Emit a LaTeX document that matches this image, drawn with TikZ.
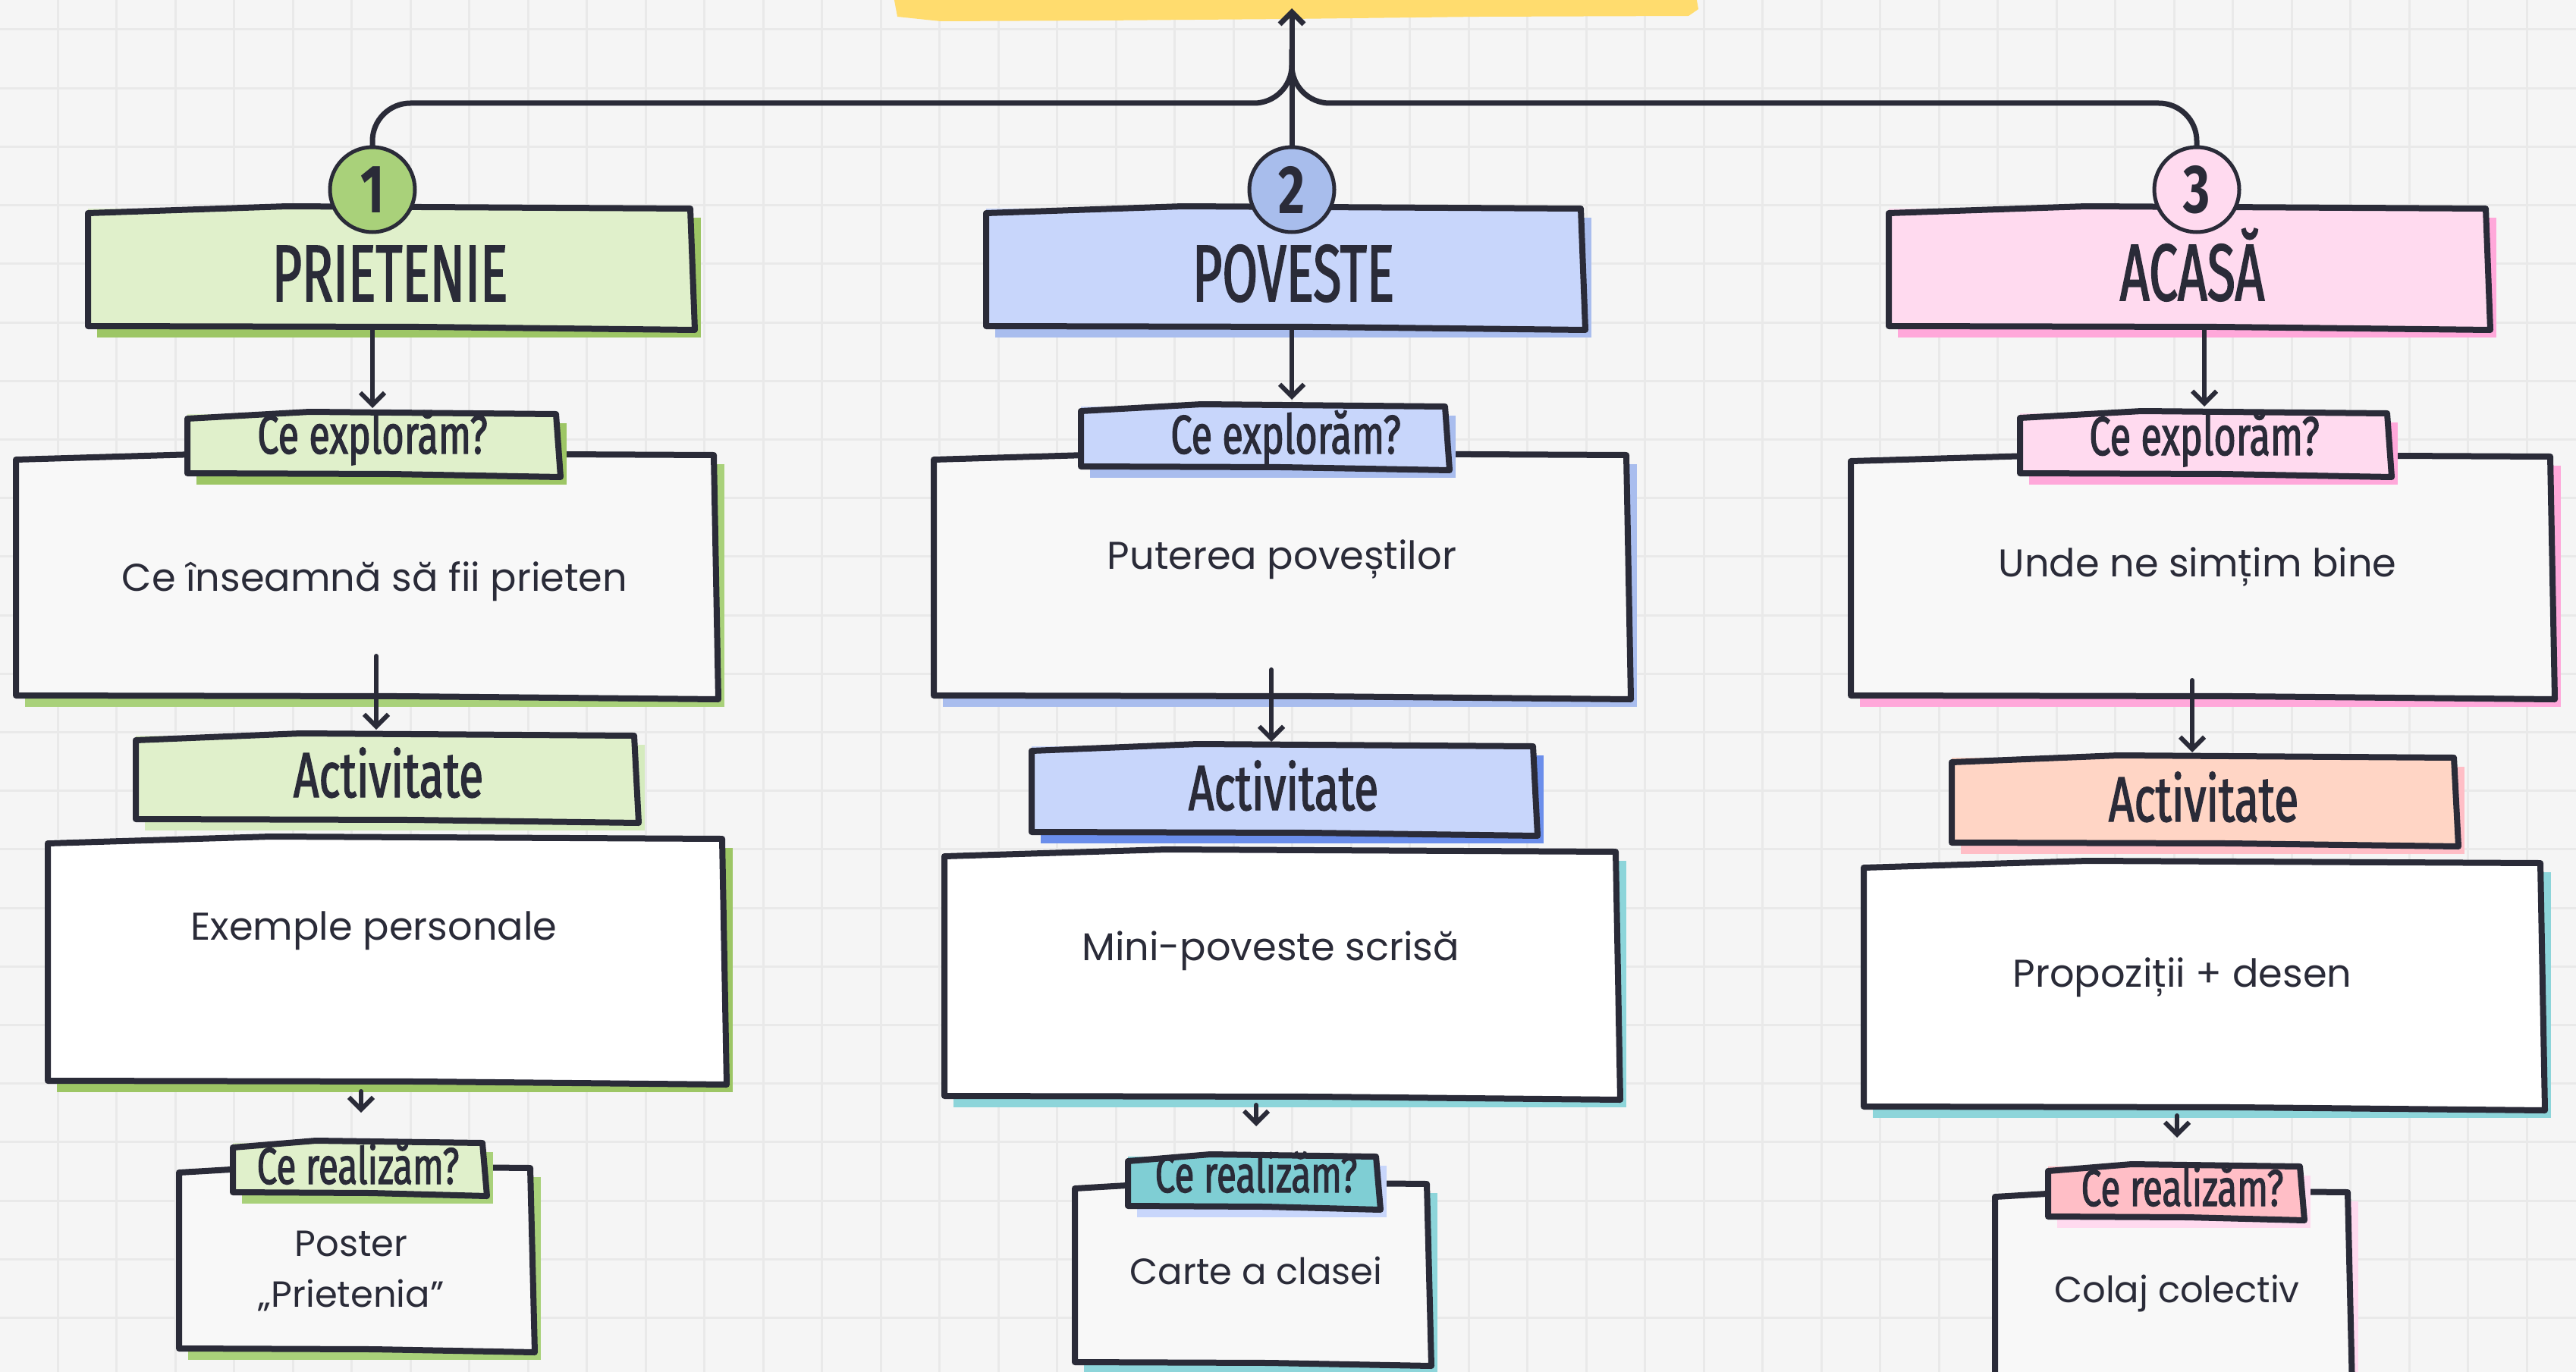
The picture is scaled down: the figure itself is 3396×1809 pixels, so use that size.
\documentclass[tikz,border=0pt]{standalone}
\usepackage{fontspec}
\setmainfont{Poppins}
\newfontfamily\handA[FakeStretch=0.64, FakeBold=1.6]{Fira Sans}
\newfontfamily\handB[FakeStretch=0.70, FakeBold=1.6]{Fira Sans}
\newfontfamily\handN[FakeStretch=0.75]{Fira Sans}
\usetikzlibrary{arrows.meta,shadows,calc}

\definecolor{ink}{HTML}{2A2B38}
\definecolor{bg}{HTML}{F5F5F5}
\definecolor{gridc}{HTML}{E9E9E9}
\definecolor{paper}{HTML}{F8F8F8}
\definecolor{gFill}{HTML}{E0F0CB}
\definecolor{gShad}{HTML}{9DC665}
\definecolor{gBadge}{HTML}{A9D17A}
\definecolor{gPale}{HTML}{D5EBBE}
\definecolor{bFill}{HTML}{C8D6FB}
\definecolor{bShad}{HTML}{A9BDEE}
\definecolor{bBadge}{HTML}{A8BDEC}
\definecolor{bDeep}{HTML}{6B8EEB}
\definecolor{tealS}{HTML}{8DD5DA}
\definecolor{tealF}{HTML}{7FCED4}
\definecolor{pFill}{HTML}{FFDAEF}
\definecolor{pShad}{HTML}{FFA8DA}
\definecolor{peach}{HTML}{FFD5C5}
\definecolor{rose}{HTML}{FFBEC6}
\definecolor{yel}{HTML}{FFDC6E}

\newcommand\skb[1]{%
  \draw[ol] ($(#1.north west)+(0,6)$) -- ($(#1.north west)!.33!(#1.north east)+(0,-3)$)
    -- ($(#1.north east)+(-2,0)$) -- ($(#1.south east)+(4,2)$)
    -- ($(#1.south west)!.55!(#1.south east)+(0,-2)$) -- ($(#1.south west)+(0,-3)$) -- cycle;}

\tikzset{
  box/.style={rectangle, inner sep=0pt, outer sep=0pt},
  sh/.style={general shadow={fill=#1, shadow xshift=12pt, shadow yshift=-12pt}},
  ol/.style={draw=ink, line width=8pt, line join=round, line cap=round},
  conn/.style={draw=ink, line width=7pt, line cap=round},
  arr/.style={draw=ink, line width=6pt, line cap=round, -{Straight Barb[length=16pt,width=32pt]}},
  badge/.style={circle, draw=ink, line width=5pt, minimum size=112pt, inner sep=0pt,
                font=\handN\bfseries\fontsize{90}{90}\selectfont, text=ink},
  ttl/.style={anchor=base, text=ink, font=\handA\fontsize{106}{110}\selectfont},
  tag/.style={anchor=base, text=ink, font=\handB\fontsize{72}{76}\selectfont},
  act/.style={anchor=base, text=ink, font=\handB\fontsize{84}{88}\selectfont},
  body/.style={anchor=base, text=ink, font=\fontsize{51}{60}\selectfont},
  gridl/.style={draw=gridc, line width=3pt}
}

\begin{document}
\begin{tikzpicture}[x=1pt,y=-1pt]
\useasboundingbox (0,0) rectangle (3396,1809);
\clip (0,0) rectangle (3396,1809);
\fill[bg] (0,0) rectangle (3396,1809);
\foreach \i in {0,...,43} \draw[gridl] ({76+77.5*\i},0) -- ++(0,1809);
\foreach \j in {0,...,23} \draw[gridl] (0,{39+77.2*\j}) -- ++(3396,0);

% yellow title underline
\fill[yel] (1178,-5) -- (2236,-5) -- (2239,12) -- (2226,21) -- (1950,22) -- (1700,25)
  -- (1450,27) -- (1240,28) -- (1183,22) -- cycle;

\coordinate (hub) at (1703,136);
\coordinate (top) at (1703,11);

% ---------- column 1 ----------
\node[box, fill=gFill, sh=gShad, minimum width=796pt, minimum height=158pt] (hdr1) at (514,354) {};
\skb{hdr1}
\node[box, fill=paper, sh=gBadge, minimum width=922pt, minimum height=320pt] (exB1) at (482,760) {};
\skb{exB1}
\node[box, fill=gFill, sh=gShad, minimum width=488pt, minimum height=81pt] (exT1) at (491,586.5) {};
\skb{exT1}
\node[box, fill=gFill, sh=gPale, minimum width=659pt, minimum height=113pt] (acT1) at (508.5,1026.5) {};
\skb{acT1}
\node[box, fill=white, sh=gShad, minimum width=891pt, minimum height=322pt] (acB1) at (508.5,1267) {};
\skb{acB1}
\node[box, fill=paper, sh=gBadge, minimum width=465pt, minimum height=241pt] (reB1) at (468.5,1660.5) {};
\skb{reB1}
\node[box, fill=gFill, sh=gBadge, minimum width=331pt, minimum height=68pt] (reT1) at (472.5,1541) {};
\skb{reT1}

% ---------- column 2 ----------
\node[box, fill=bFill, sh=bShad, minimum width=786pt, minimum height=158pt] (hdr2) at (1693,354) {};
\skb{hdr2}
\node[box, fill=paper, sh=bShad, minimum width=915pt, minimum height=320pt] (exB2) at (1688.5,760) {};
\skb{exB2}
\node[box, fill=bFill, sh=bShad, minimum width=482pt, minimum height=82pt] (exT2) at (1666,577) {};
\skb{exT2}
\node[box, fill=bFill, sh=bDeep, minimum width=663pt, minimum height=116pt] (acT2) at (1691.5,1042) {};
\skb{acT2}
\node[box, fill=white, sh=tealS, minimum width=887pt, minimum height=325pt] (acB2) at (1688.5,1285.5) {};
\skb{acB2}
\node[box, fill=paper, sh=tealS, minimum width=466pt, minimum height=238pt] (reB2) at (1650,1680) {};
\skb{reB2}
\node[box, fill=tealF, sh=bFill, minimum width=329pt, minimum height=68pt] (reT2) at (1651.5,1559) {};
\skb{reT2}

% ---------- column 3 ----------
\node[box, fill=pFill, sh=pShad, minimum width=789pt, minimum height=158pt] (hdr3) at (2884.5,354) {};
\skb{hdr3}
\node[box, fill=paper, sh=pShad, minimum width=924pt, minimum height=318pt] (exB3) at (2902,761) {};
\skb{exB3}
\node[box, fill=pFill, sh=pShad, minimum width=486pt, minimum height=82pt] (exT3) at (2906,586) {};
\skb{exT3}
\node[box, fill=peach, sh=rose, minimum width=664pt, minimum height=115pt] (acT3) at (2905,1056.5) {};
\skb{acT3}
\node[box, fill=white, sh=tealS, minimum width=894pt, minimum height=324pt] (acB3) at (2904,1300) {};
\skb{acB3}
\node[box, fill=paper, sh=pFill, minimum width=467pt, minimum height=258pt] (reB3) at (2863.5,1701) {};
\skb{reB3}
\node[box, fill=rose, sh=pFill, minimum width=334pt, minimum height=69pt] (reT3) at (2867,1572.5) {};
\skb{reT3}

% ---------- top connectors and badges ----------
\coordinate (badge1) at (491,250);
\coordinate (badge2) at (1703,250);
\coordinate (badge3) at (2896,250);
\coordinate (bt1) at (491,194);
\coordinate (bt2) at (1703,194);
\coordinate (bt3) at (2896,194);
\draw[conn, rounded corners=50pt] (bt1) -- (bt1 |- hub) -- (hub) -- ($(hub)+(0,-70)$);
\draw[conn, rounded corners=50pt] (bt3) -- (bt3 |- hub) -- (hub) -- ($(hub)+(0,-70)$);
\draw[arr, line width=7pt] (bt2) -- (top);
\node[badge, fill=gBadge] (n1) at (badge1) {1};
\node[badge, fill=bBadge] (n2) at (badge2) {2};
\node[badge, fill=pFill] (n3) at (badge3) {3};

% ---------- arrows ----------
\draw[arr] (hdr1.south -| exT1.north) -- ($(exT1.north)+(0,-8)$);
\draw[arr] ($(exB1.south)+(14,-55)$) -- ($(acT1.north)+(-12.5,-8)$);
\draw[arr] ($(acB1.south)+(-32.5,11)$) -- ($(reT1.north)+(3.5,-40)$);

\draw[arr] (hdr2.south -| n2.south) -- ($(exT2.north)+(37,-9)$);
\draw[arr] ($(exB2.south)+(-12.5,-37)$) -- ($(acT2.north)+(-15.5,-6)$);
\draw[arr] ($(acB2.south)+(-32.5,9)$) -- ($(reT2.north)+(4.5,-40)$);

\draw[arr] (hdr3.south -| exT3.north) -- ($(exT3.north)+(0,-9)$);
\draw[arr] ($(exB3.south)+(-12,-23)$) -- ($(acT3.north)+(-15,-7)$);
\draw[arr] ($(acB3.south)+(-34,9)$) -- ($(reT3.north)+(3,-38)$);

% ---------- texts ----------
\node[ttl] (t1) at (514,397) {PRIETENIE};
\node[ttl] (t2) at (1705,397) {POVESTE};
\node[ttl] (t3) at (2890,396) {ACASĂ};

\node[tag] (e1) at (491,598) {Ce explorăm?};
\node[tag] (e2) at (1695,598) {Ce explorăm?};
\node[tag] (e3) at (2906,600) {Ce explorăm?};

\node[body] (b1) at (494,779) {Ce înseamnă să fii prieten};
\node[body] (b2) at (1690,750) {Puterea poveștilor};
\node[body] (b3) at (2897,760) {Unde ne simțim bine};

\node[act] (a1) at (512,1051) {Activitate};
\node[act] (a2) at (1692,1068) {Activitate};
\node[act] (a3) at (2905,1083) {Activitate};

\node[body] (d1) at (493,1239) {Exemple personale};
\node[body] (d2) at (1675,1266) {Mini-poveste scrisă};
\node[body] (d3) at (2877,1301) {Propoziții + desen};

\node[tag, font=\handB\fontsize{68}{72}\selectfont] (r1) at (472,1561) {Ce realizăm?};
\node[tag, font=\handB\fontsize{68}{72}\selectfont] (r2) at (1656,1572) {Ce realizăm?};
\node[tag, font=\handB\fontsize{68}{72}\selectfont] (r3) at (2877,1590) {Ce realizăm?};

\node[body, font=\fontsize{48}{58}\selectfont] (p1a) at (463,1656) {Poster};
\node[body, font=\fontsize{48}{58}\selectfont] (p1b) at (463,1723) {„Prietenia”};
\node[body, font=\fontsize{48}{58}\selectfont] (p2) at (1656,1693) {Carte a clasei};
\node[body, font=\fontsize{48}{58}\selectfont] (p3) at (2870,1717) {Colaj colectiv};
\end{tikzpicture}
\end{document}
